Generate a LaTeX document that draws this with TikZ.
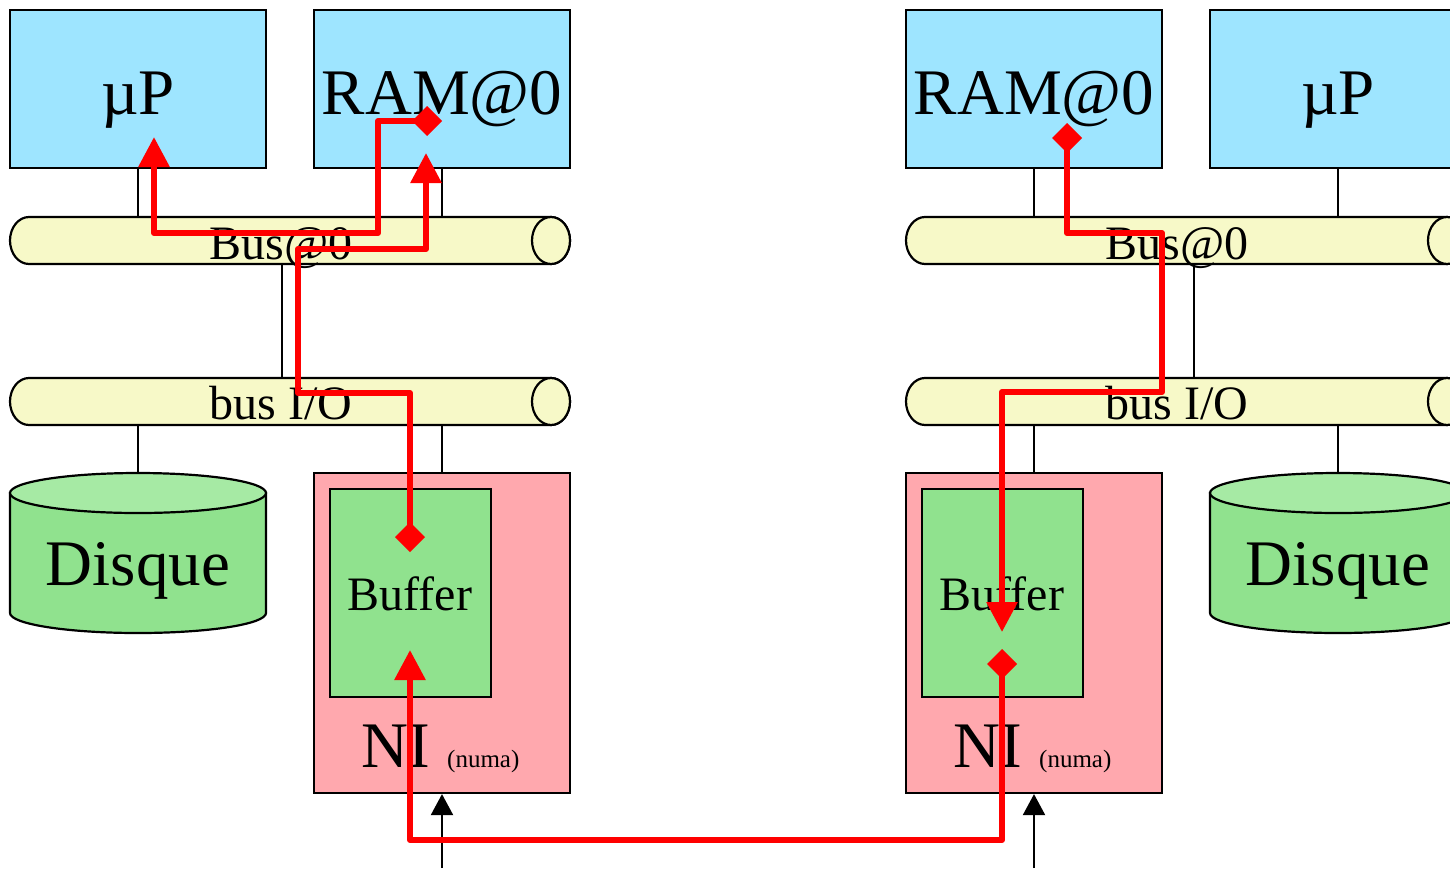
\documentclass[tikz,border=0pt]{standalone}
\usepackage{fontspec}
\setmainfont{Liberation Serif}
\usetikzlibrary{arrows.meta}
\definecolor{boxblue}{HTML}{9EE5FF}
\definecolor{busyellow}{HTML}{F7F9C8}
\definecolor{nipink}{HTML}{FFA8AE}
\definecolor{bufgreen}{HTML}{90E28E}
\definecolor{disktop}{HTML}{A6EAA4}
\definecolor{pathred}{HTML}{FF0000}
\begin{document}
\begin{tikzpicture}[x=1pt,y=-1pt,
  blk/.style={line width=2.2pt},
  cpubox/.style={rectangle, draw, blk, fill=boxblue, minimum width=256pt, minimum height=158pt, inner sep=0pt},
  nibox/.style={rectangle, draw, blk, fill=nipink, minimum width=256pt, minimum height=320pt, inner sep=0pt},
  bufbox/.style={rectangle, draw, blk, fill=bufgreen, minimum width=161pt, minimum height=208pt, inner sep=0pt},
  hbus/.pic={
    \path[fill=busyellow, draw, blk, line join=round] (-261,-23.5) -- (261,-23.5)
      arc[start angle=90, end angle=-90, x radius=19pt, y radius=23.5pt]
      -- (-261,23.5)
      arc[start angle=270, end angle=90, x radius=19pt, y radius=23.5pt] -- cycle;
    \draw[blk, fill=busyellow] (261,0) ellipse[x radius=19pt, y radius=23.5pt];
    \coordinate (-top) at (0,-23.5);
    \coordinate (-bot) at (0,23.5);
  },
  disk/.pic={
    \path[fill=bufgreen, draw, blk] (-128,-60) -- (-128,60)
      arc[start angle=180, end angle=360, x radius=128pt, y radius=20pt]
      -- (128,-60) -- cycle;
    \draw[blk, fill=disktop] (0,-60) ellipse[x radius=128pt, y radius=20pt];
    \coordinate (-top) at (0,-80);
  },
  big/.style={inner sep=0pt, anchor=base, font=\fontsize{65}{70}\selectfont},
  mid/.style={inner sep=0pt, anchor=base, font=\fontsize{48}{52}\selectfont},
  small/.style={inner sep=0pt, anchor=base west, font=\fontsize{25}{28}\selectfont},
  wire/.style={blk},
  inarrow/.style={blk, -{Triangle[length=21pt,width=22pt]}},
  route/.style={draw=pathred, line width=6pt, line join=round, {Diamond[length=30pt,width=30pt]}-{Triangle[length=30pt,width=30pt]}}
]
\useasboundingbox (0,0) rectangle (1450,868);

% ---- left node ----
\node[cpubox] (upL) at (138,89) {};
\node[cpubox] (ramL) at (442,89) {};
\pic (busL) at (290,240.5) {hbus};
\pic (ioL) at (290,401.5) {hbus};
\pic (dkL) at (138,553) {disk};
\node[nibox] (niL) at (442,633) {};
\node[bufbox] (bfL) at (410.5,593) {};

% ---- right node ----
\node[cpubox] (ramR) at (1034,89) {};
\node[cpubox] (upR) at (1338,89) {};
\pic (busR) at (1186,240.5) {hbus};
\pic (ioR) at (1186,401.5) {hbus};
\pic (dkR) at (1338,553) {disk};
\node[nibox] (niR) at (1034,633) {};
\node[bufbox] (bfR) at (1002.5,593) {};

% ---- wires ----
\coordinate (w1) at (282,0);
\coordinate (w2) at (1194,0);
\draw[wire] (upL.south) -- (upL.south |- busL-top);
\draw[wire] (ramL.south) -- (ramL.south |- busL-top);
\draw[wire] (w1 |- busL-bot) -- (w1 |- ioL-top);
\draw[wire] (dkL-top) -- (dkL-top |- ioL-bot);
\draw[wire] (niL.north) -- (niL.north |- ioL-bot);
\draw[wire] (ramR.south) -- (ramR.south |- busR-top);
\draw[wire] (upR.south) -- (upR.south |- busR-top);
\draw[wire] (w2 |- busR-bot) -- (w2 |- ioR-top);
\draw[wire] (dkR-top) -- (dkR-top |- ioR-bot);
\draw[wire] (niR.north) -- (niR.north |- ioR-bot);

% ---- texts ----
\node[big] (tupL) at (138,114) {µP};
\node[big] (tramL) at (442,114) {RAM@0};
\node[big] (tramR) at (1034,114) {RAM@0};
\node[big] (tupR) at (1338,114) {µP};
\node[mid] (tbusL) at (281,259) {Bus@0};
\node[mid] (tioL) at (281,419) {bus I/O};
\node[mid] (tbusR) at (1177,259) {Bus@0};
\node[mid] (tioR) at (1177,419) {bus I/O};
\node[big] (tdkL) at (138,585) {Disque};
\node[big] (tdkR) at (1338,585) {Disque};
\node[mid] (tbfL) at (410,610) {Buffer};
\node[mid] (tbfR) at (1002,610) {Buffer};
\node[big] (tniL) at (396,767) {NI};
\node[small] (tnuL) at (447,767) {(numa)};
\node[big] (tniR) at (988,767) {NI};
\node[small] (tnuR) at (1039,767) {(numa)};

% ---- incoming links ----
\coordinate (inL) at (442,868);
\coordinate (inR) at (1034,868);
\draw[inarrow] (inL) -- (niL.south);
\draw[inarrow] (inR) -- (niR.south);

% ---- red routes ----
\coordinate (a0) at (442,121); \coordinate (a1) at (378,121);
\coordinate (a2) at (378,233); \coordinate (a3) at (154,233);
\coordinate (a4) at (154,137);
\draw[route] (a0) -- (a1) -- (a2) -- (a3) -- (a4);

\coordinate (b0) at (410,552); \coordinate (b1) at (410,393);
\coordinate (b2) at (298,393); \coordinate (b3) at (298,249);
\coordinate (b4) at (426,249); \coordinate (b5) at (426,153);
\draw[route] (b0) -- (b1) -- (b2) -- (b3) -- (b4) -- (b5);

\coordinate (c0) at (1067,123); \coordinate (c1) at (1067,233);
\coordinate (c2) at (1162,233); \coordinate (c3) at (1162,392);
\coordinate (c4) at (1002,392); \coordinate (c5) at (1002,632);
\draw[route] (c0) -- (c1) -- (c2) -- (c3) -- (c4) -- (c5);

\coordinate (d0) at (1002,649); \coordinate (d1) at (1002,840);
\coordinate (d2) at (410,840); \coordinate (d3) at (410,650);
\draw[route] (d0) -- (d1) -- (d2) -- (d3);
\end{tikzpicture}
\end{document}
